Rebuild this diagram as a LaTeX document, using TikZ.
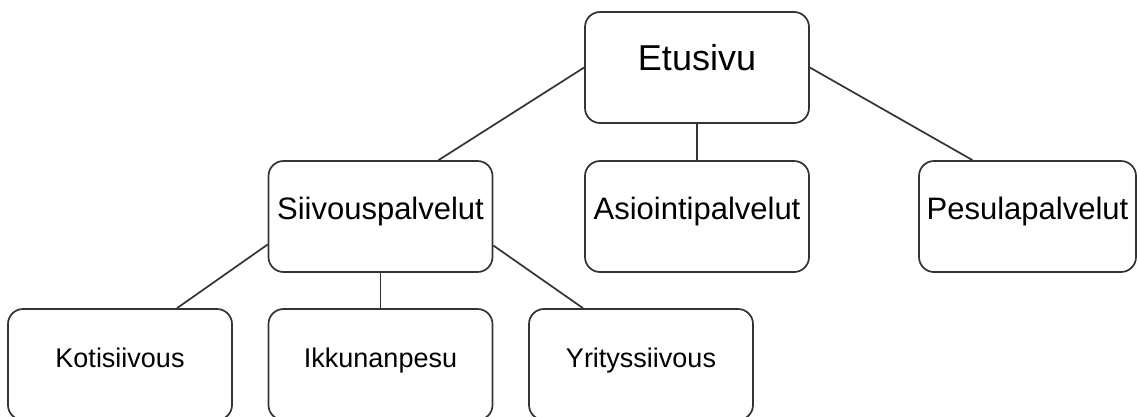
\documentclass[tikz,border=0pt]{standalone}
\usepackage{fontspec}
\setmainfont{Liberation Sans}
\usetikzlibrary{calc}
\definecolor{edge}{HTML}{333333}
\tikzset{
  pagebox/.style={draw=edge, line width=1.7pt, rounded corners=15pt, fill=white,
    minimum width=224pt, minimum height=111pt, inner sep=0pt, align=center,
    text height=0.72em, text depth=0.12em},
  link/.style={draw=edge, line width=1.7pt},
}
\begin{document}
\begin{tikzpicture}[x=1pt, y=-1pt]
  \clip (0,0) rectangle (1137,416);
  \fill[white] (0,0) rectangle (1137,416);
  % top level
  \node[pagebox, font=\fontsize{36}{40}\selectfont] (etu) at (697,67.5) {Etusivu};
  % second level
  \node[pagebox, font=\fontsize{31}{36}\selectfont] (siiv) at (380.5,216.5) {Siivouspalvelut};
  \node[pagebox, font=\fontsize{31}{36}\selectfont] (asio) at (697,216.5) {Asiointipalvelut};
  \node[pagebox, minimum width=217pt, font=\fontsize{31}{36}\selectfont] (pesu) at (1027.5,216.5) {Pesulapalvelut};
  % third level
  \node[pagebox, font=\fontsize{27}{32}\selectfont] (koti) at (120,364.5) {Kotisiivous};
  \node[pagebox, font=\fontsize{27}{32}\selectfont] (ikku) at (380.5,364.5) {Ikkunanpesu};
  \node[pagebox, font=\fontsize{27}{32}\selectfont] (yrit) at (641,364.5) {Yrityssiivous};
  % connectors
  \draw[link] (etu.west) -- ([xshift=58pt]siiv.north);
  \draw[link] (etu.south) -- (asio.north);
  \draw[link] (etu.east) -- ([xshift=-55pt]pesu.north);
  \draw[link] ([yshift=-28pt]siiv.west) -- ([xshift=57pt]koti.north);
  \draw[link] (siiv.south) -- (ikku.north);
  \draw[link] ([yshift=-29pt]siiv.east) -- ([xshift=-58pt]yrit.north);
\end{tikzpicture}
\end{document}
